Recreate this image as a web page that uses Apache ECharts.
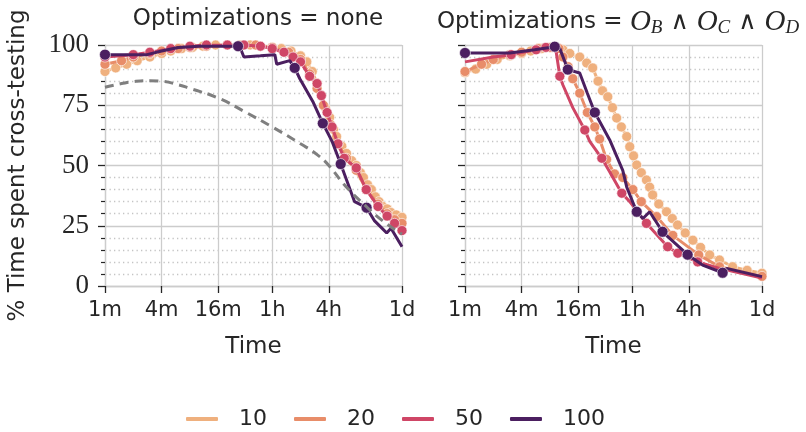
<!DOCTYPE html>
<html>
<head>
<meta charset="utf-8">
<script src="https://cdn.jsdelivr.net/npm/echarts@6/dist/echarts.min.js"></script>
<style>
  html, body { margin: 0; background: #fff; }
  #chart { width: 806px; height: 432px; }
</style>
</head>
<body>
<div id="chart"></div>
<script>
// axes
const xTickValues = [1, 4, 16, 60, 240, 1440]
const xTickLabels = ['1m', '4m', '16m', '1h', '4h', '1d']
const groupNames = ['10', '20', '50', '100']
const groupColors = ['#efb07e', '#e88d69', '#cf4666', '#4b1f60']

// panel 1: Optimizations = none  ([minutes, percent])
const none10 = [[1, 89], [1.3, 90.5], [1.7, 92], [2.2, 93.5], [3, 95], [4, 96.5], [5, 97.5], [6.5, 98.5], [8.5, 99], [11, 99.5], [15, 100], [20, 100], [27, 100], [35, 100], [45, 99.5], [60, 99], [75, 98.5], [95, 97.5], [120, 95.5], [140, 93], [160, 89], [180, 84], [200, 79], [220, 74], [245, 70], [270, 65], [290, 62], [330, 58], [370, 55], [420, 52], [470, 50], [520, 47], [560, 45], [620, 42], [680, 40], [750, 37], [820, 35], [900, 33], [1000, 32], [1100, 30.5], [1250, 29.5], [1440, 28.5]]
const none20 = [[1, 92], [1.5, 93.5], [2, 95], [3, 96.5], [4, 97.5], [6, 98.5], [8, 99], [12, 99.5], [20, 100], [40, 100], [60, 99], [90, 97], [120, 94], [150, 88], [180, 82], [210, 75], [250, 67], [300, 59], [370, 53], [470, 48], [600, 40], [800, 34], [1000, 30], [1200, 27.5], [1440, 26]]
const none50 = [[1, 95], [2, 96], [3, 97], [5, 98.5], [8, 99.5], [12, 100], [20, 100], [30, 100], [45, 99.5], [60, 98.5], [80, 97], [100, 95], [120, 93], [150, 87], [180, 84], [200, 79], [230, 72], [260, 66], [300, 59], [350, 53], [470, 49], [600, 40], [800, 33], [1000, 29], [1200, 26], [1440, 23]]
const none100 = [[1, 96], [2.8, 96], [4, 97.5], [6, 99], [10, 99.5], [27, 99.5], [30, 95], [45, 95.5], [64, 96], [67, 92], [92, 93.5], [104, 90.5], [118, 86], [162, 76.6], [207, 67.5], [260, 60], [321, 50.6], [451, 35], [605, 32.5], [736, 27], [880, 24], [990, 22], [1100, 24], [1440, 16.3]]
const noneDots100 = [[1, 96], [26, 99.5], [104, 90.5], [207, 67.5], [321, 50.6], [605, 32.5]]
const noneModel = [[1, 82.5], [1.5, 84], [2, 84.8], [3, 85.2], [4, 85], [6, 83.5], [8, 82], [16, 78], [30, 72.5], [60, 66], [120, 59], [180, 54.5], [240, 50], [360, 41.5], [600, 33], [900, 27], [1440, 21.5]]

// panel 2: Optimizations = O_B ∧ O_C ∧ O_D
const opt10 = [[1, 88.5], [1.3, 90], [1.7, 92], [2.2, 94], [3, 95.5], [4, 96.5], [5, 97.5], [6.5, 98.5], [8.5, 99], [11, 98], [13, 96.5], [16.6, 95], [19.7, 92.5], [22.8, 90.5], [26, 85], [29, 81], [33, 78.5], [37, 74], [41, 69.7], [46, 66], [52.5, 62], [56.5, 57.8], [62, 54], [67, 50.2], [75, 47], [85, 44], [92, 41], [99, 37.8], [115, 34], [139, 30.8], [160, 28], [182, 25.3], [220, 22], [265, 19], [320, 16], [400, 12.9], [509, 10.8], [700, 8], [1000, 6.5], [1440, 5.3]]
const opt20 = [[1, 89], [1.5, 92], [2, 94], [3, 96], [4, 97], [6, 98.5], [8, 99], [10, 98.5], [11, 95], [12.5, 91], [14, 86], [16.6, 80], [20, 72], [24, 66], [27, 61], [32, 52.5], [39, 46.5], [47.6, 45], [61, 40], [75, 35], [109, 28.8], [162, 21], [306, 12.9], [509, 8], [1440, 4]]
const opt50 = [[1, 93], [2, 95], [3.1, 96], [5.7, 98], [7.25, 99], [9.3, 97.4], [10.2, 87], [11, 83.4], [14, 74], [18.8, 64.7], [21.2, 60], [28.5, 53], [35, 47], [46.5, 38.5], [56.5, 35], [85, 26], [143, 16.3], [183, 13.6], [298, 10], [510, 7.3], [1440, 3.3]]
const optDots50 = [[3.1, 96], [5.7, 98], [7.25, 99], [10.2, 87], [18.8, 64.7], [28.5, 53], [46.5, 38.5], [85, 26], [143, 16.3], [183, 13.6], [298, 10]]
const opt100 = [[1, 96.7], [3, 96.7], [5.5, 98], [9, 99.3], [10.2, 98.5], [12.4, 89.8], [16.6, 88.4], [20, 80], [24, 72], [34.6, 60.6], [47.6, 48], [52.5, 41], [67, 30.8], [78, 28], [92, 30.8], [126, 22.5], [233, 13], [336, 8.7], [549, 5.5], [605, 7.3], [1440, 3.9]]
const optDots100 = [[1, 96.7], [9, 99.3], [12.4, 89.8], [24, 72], [67, 30.8], [126, 22.5], [233, 13], [549, 5.5]]

const panels = [
  { lines: [none10, none20, none50, none100], dots: [none10, none20, none50, noneDots100], model: noneModel },
  { lines: [opt10, opt20, opt50, opt100], dots: [opt10, opt20, optDots50, optDots100] }
]

const textColor = '#262626'
const gridColor = '#cccccc'
const sans = 'DejaVu Sans'
const serif = 'Liberation Serif'

function xAxis(i) {
  return {
    type: 'log', logBase: 2, min: 1, max: 1440, gridIndex: i,
    name: 'Time', nameLocation: 'middle', nameGap: 50,
    nameTextStyle: { color: textColor, fontFamily: sans, fontSize: 23 },
    axisLine: { lineStyle: { color: gridColor, width: 1.3 } },
    axisTick: { customValues: xTickValues, length: 7, lineStyle: { color: textColor, width: 1.3 } },
    axisLabel: {
      customValues: xTickValues, margin: 14, color: textColor, fontFamily: sans, fontSize: 21,
      formatter: (v) => xTickLabels[xTickValues.indexOf(v)]
    },
    splitLine: { show: true, lineStyle: { color: gridColor, width: 1.3 } }
  }
}

function yAxis(i) {
  return {
    type: 'value', min: 0, max: 100, interval: 25, gridIndex: i,
    name: i === 0 ? '% Time spent cross-testing' : '', nameLocation: 'middle', nameGap: 75,
    nameTextStyle: { color: textColor, fontFamily: sans, fontSize: 23 },
    axisLine: { show: true, lineStyle: { color: gridColor, width: 1.3 } },
    axisTick: { length: 7, lineStyle: { color: textColor, width: 1.3 } },
    minorTick: { show: true, splitNumber: 5, length: 4, lineStyle: { color: textColor, width: 1.2 } },
    axisLabel: { show: i === 0, margin: 16, color: textColor, fontFamily: serif, fontSize: 27 },
    splitLine: { lineStyle: { color: gridColor, width: 1.3 } },
    minorSplitLine: { show: true, lineStyle: { color: '#c4c4c4', width: 1.3, type: [1.3, 3.2] } }
  }
}

const series = []
panels.forEach((p, pi) => {
  groupNames.forEach((name, gi) => {
    series.push({
      name, type: 'line', xAxisIndex: pi, yAxisIndex: pi, data: p.lines[gi],
      showSymbol: false, color: groupColors[gi], lineStyle: { width: 3 }, z: 2 + gi, silent: true
    })
    series.push({
      name, type: 'scatter', xAxisIndex: pi, yAxisIndex: pi, data: p.dots[gi],
      symbolSize: gi === 3 ? 11 : 10, color: groupColors[gi], z: 2 + gi, silent: true,
      itemStyle: { borderColor: '#fff', borderWidth: 0.6, opacity: 1 }
    })
  })
  if (p.model) {
    series.push({
      name: 'model', type: 'line', xAxisIndex: pi, yAxisIndex: pi, data: p.model,
      smooth: true, showSymbol: false, color: '#7f7f7f', z: 10, silent: true,
      lineStyle: { width: 3, type: [9, 6] }
    })
  }
})

const chart = echarts.init(document.getElementById('chart'))
chart.setOption({
  animation: false,
  backgroundColor: '#fff',
  title: [
    {
      text: 'Optimizations = none', left: 253, top: 3, textAlign: 'center',
      textStyle: { color: textColor, fontFamily: sans, fontSize: 23, fontWeight: 'normal' }
    },
    {
      text: 'Optimizations = {mi|O}{sub|B}{op| ∧ }{mi|O}{sub|C}{op| ∧ }{mi|O}{sub|D}',
      left: 613, top: 2, textAlign: 'center',
      textStyle: {
        color: textColor, fontFamily: sans, fontSize: 23, fontWeight: 'normal',
        rich: {
          mi: { fontFamily: serif, fontStyle: 'italic', fontSize: 29, color: textColor, lineHeight: 30 },
          sub: { fontFamily: serif, fontStyle: 'italic', fontSize: 19, color: textColor, lineHeight: 14, verticalAlign: 'bottom' },
          op: { fontFamily: sans, fontSize: 25, color: textColor, lineHeight: 30 }
        }
      }
    }
  ],
  legend: {
    data: groupNames, left: 181, top: 403, icon: 'roundRect',
    itemWidth: 32, itemHeight: 4, itemGap: 27,
    textStyle: { color: textColor, fontFamily: sans, fontSize: 22, padding: [0, 0, 0, 16] }
  },
  grid: [
    { left: 105, right: 404, top: 45, bottom: 146 },
    { left: 465, right: 44, top: 45, bottom: 146 }
  ],
  xAxis: [xAxis(0), xAxis(1)],
  yAxis: [yAxis(0), yAxis(1)],
  series
})
</script>
</body>
</html>
